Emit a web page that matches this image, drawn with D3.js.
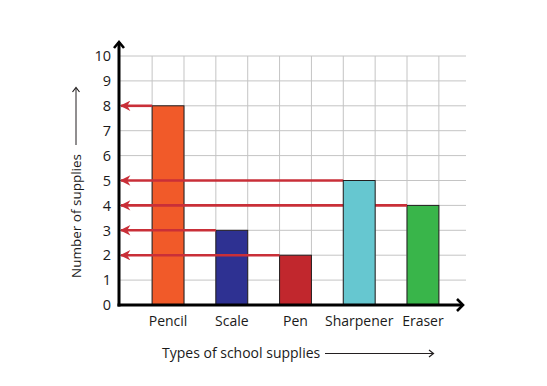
<!DOCTYPE html>
<html>
<head>
<meta charset="utf-8">
<script src="https://cdn.jsdelivr.net/npm/d3@7"></script>
<style>
    body { margin: 0; background: #fff; }
    text { font-family: "Open Sans", "Noto Sans", sans-serif; fill: #1a1a1a; }
</style>
</head>
<body>
<svg id="chart" width="547" height="386"></svg>
<script>
// data
var categories = ['Pencil', 'Scale', 'Pen', 'Sharpener', 'Eraser'];
var supplies = [8, 3, 2, 5, 4];
var barColors = ['#f15a29', '#2e3192', '#c1272d', '#66c7d0', '#39b54a'];
var yTicks = [0, 1, 2, 3, 4, 5, 6, 7, 8, 9, 10];

var data = categories.map(function (c, i) {
    return {name: c, value: supplies[i], color: barColors[i]};
});

var svg = d3.select('#chart');
var axisX = 119, axisY = 305, gridRight = 466;

var xScale = d3.scaleBand()
    .domain(categories)
    .range([axisX, 472])
    .paddingInner(0.5)
    .paddingOuter(0.52);

var yScale = d3.scaleLinear()
    .domain([0, 10])
    .range([axisY, 56]);

var red = '#c92f38';

svg.append('defs').append('marker')
    .attr('id', 'redHead')
    .attr('viewBox', '0 0 10 10')
    .attr('refX', 9).attr('refY', 5)
    .attr('markerWidth', 4.4).attr('markerHeight', 4)
    .attr('markerUnits', 'strokeWidth')
    .attr('orient', 'auto')
    .append('path')
    .attr('d', 'M10,5 L0,0 L3,5 L0,10 Z')
    .attr('fill', red);

// grid
var grid = svg.append('g').attr('class', 'grid');
grid.selectAll('line.h')
    .data(yTicks.filter(function (d) { return d > 0; }))
    .enter().append('line')
    .attr('class', 'h')
    .attr('x1', axisX).attr('x2', gridRight)
    .attr('y1', function (d) { return yScale(d); })
    .attr('y2', function (d) { return yScale(d); })
    .attr('stroke', '#c4c4c4').attr('stroke-width', 1);

var edges = [];
categories.forEach(function (c) {
    edges.push(xScale(c));
    edges.push(xScale(c) + xScale.bandwidth());
});
grid.selectAll('line.v')
    .data(edges)
    .enter().append('line')
    .attr('class', 'v')
    .attr('x1', function (d) { return d; })
    .attr('x2', function (d) { return d; })
    .attr('y1', yScale(10)).attr('y2', axisY)
    .attr('stroke', '#c4c4c4').attr('stroke-width', 1);

// bars and arrows share one group so their stacking can be tuned
var marks = svg.append('g');

var bars = marks.selectAll('rect')
    .data(data)
    .enter().append('rect')
    .attr('x', function (d) { return xScale(d.name); })
    .attr('y', function (d) { return yScale(d.value); })
    .attr('width', xScale.bandwidth())
    .attr('height', function (d) { return axisY - yScale(d.value); })
    .attr('fill', function (d) { return d.color; })
    .attr('stroke', '#231f20')
    .attr('stroke-width', 1);

// red arrows from bar tops to the y axis
marks.selectAll('line')
    .data(data)
    .enter().append('line')
    .attr('x1', function (d) { return xScale(d.name); })
    .attr('x2', axisX + 2)
    .attr('y1', function (d) { return yScale(d.value); })
    .attr('y2', function (d) { return yScale(d.value); })
    .attr('stroke', red)
    .attr('stroke-width', 2.6)
    .attr('marker-end', 'url(#redHead)');

// in the picture the sharpener bar hides the eraser arrow
bars.filter(function (d) { return d.name === 'Sharpener'; }).raise();

// axes
svg.append('line')
    .attr('x1', axisX).attr('x2', axisX)
    .attr('y1', axisY + 1.5).attr('y2', 42)
    .attr('stroke', '#000').attr('stroke-width', 3);
svg.append('path')
    .attr('d', 'M' + (axisX - 5) + ',48 L' + axisX + ',42 L' + (axisX + 5) + ',48')
    .attr('fill', 'none').attr('stroke', '#000').attr('stroke-width', 2.6);

svg.append('line')
    .attr('x1', axisX - 1.5).attr('x2', 463)
    .attr('y1', axisY).attr('y2', axisY)
    .attr('stroke', '#000').attr('stroke-width', 3);
svg.append('path')
    .attr('d', 'M457,' + (axisY - 6) + ' L463,' + axisY + ' L457,' + (axisY + 6))
    .attr('fill', 'none').attr('stroke', '#000').attr('stroke-width', 2.6);

// tick labels
svg.append('g').selectAll('text')
    .data(yTicks)
    .enter().append('text')
    .attr('x', 111)
    .attr('y', function (d) { return yScale(d); })
    .attr('dy', '0.36em')
    .attr('text-anchor', 'end')
    .style('font-size', '14.5px')
    .text(function (d) { return d; });

svg.append('g').selectAll('text')
    .data(categories)
    .enter().append('text')
    .attr('x', function (d) { return xScale(d) + xScale.bandwidth() / 2; })
    .attr('y', 326)
    .attr('text-anchor', 'middle')
    .style('font-size', '14px')
    .text(function (d) { return d; });

// axis titles with their arrows
svg.append('text')
    .attr('transform', 'translate(80.5,278) rotate(-90)')
    .style('font-size', '13.5px')
    .text('Number of supplies');
svg.append('line')
    .attr('x1', 76).attr('x2', 76)
    .attr('y1', 145).attr('y2', 88)
    .attr('stroke', '#231f20').attr('stroke-width', 1);
svg.append('path')
    .attr('d', 'M72.5,92 L76,87.5 L79.5,92')
    .attr('fill', 'none').attr('stroke', '#231f20').attr('stroke-width', 1.2);

svg.append('text')
    .attr('x', 162)
    .attr('y', 358)
    .style('font-size', '14px')
    .text('Types of school supplies');
svg.append('line')
    .attr('x1', 325).attr('x2', 433)
    .attr('y1', 353.5).attr('y2', 353.5)
    .attr('stroke', '#231f20').attr('stroke-width', 1);
svg.append('path')
    .attr('d', 'M429,350 L433.5,353.5 L429,357')
    .attr('fill', 'none').attr('stroke', '#231f20').attr('stroke-width', 1.2);
</script>
</body>
</html>
